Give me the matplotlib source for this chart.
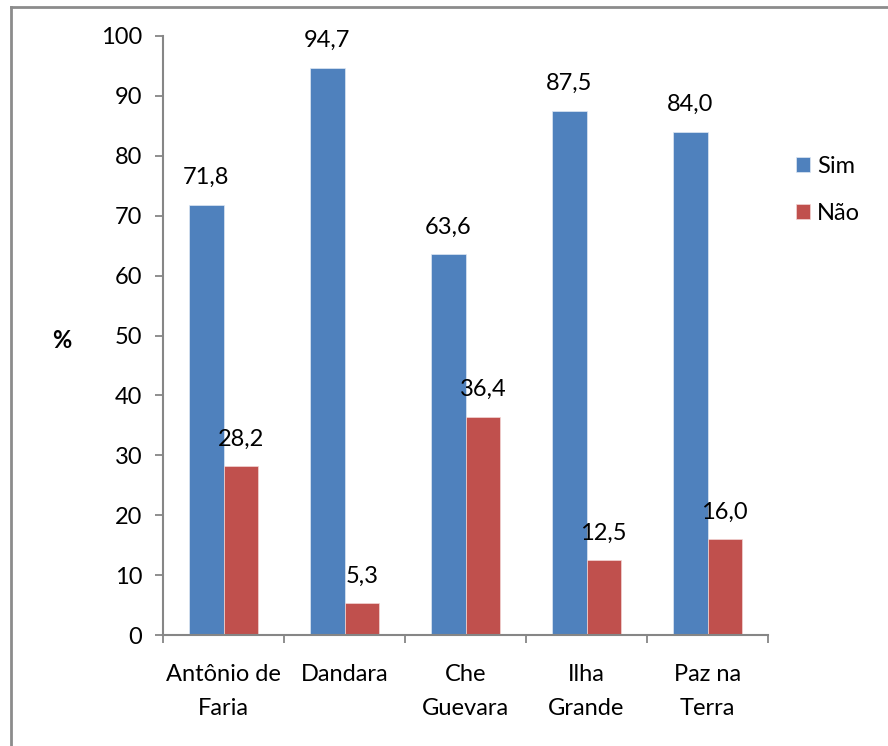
import matplotlib
matplotlib.use("Agg")
import matplotlib.pyplot as plt
import numpy as np
from matplotlib.lines import Line2D

categories = ["Antônio de\nFaria", "Dandara", "Che\nGuevara", "Ilha\nGrande", "Paz na\nTerra"]
sim = [71.8, 94.7, 63.6, 87.5, 84.0]
nao = [28.2, 5.3, 36.4, 12.5, 16.0]
series_names = ["Sim", "Não"]
yticks = [0, 10, 20, 30, 40, 50, 60, 70, 80, 90, 100]

plt.rcParams['font.family'] = ['Lato', 'DejaVu Sans']
FS = 17
W, H = 888, 746
fig = plt.figure(figsize=(W / 100, H / 100), dpi=100)
ax = fig.add_axes([163 / W, (H - 635) / H, (768 - 163) / W, (635 - 36) / H])

blue = "#4F81BD"
red = "#C0504D"
grey = "#868686"
bw = 0.285
x = np.arange(len(categories))
b1 = ax.bar(x - bw / 2, sim, bw, color=blue, edgecolor="#dfe8f3", linewidth=0.5, label=series_names[0])
b2 = ax.bar(x + bw / 2, nao, bw, color=red, edgecolor="#f2d6d5", linewidth=0.5, label=series_names[1])

def fmt(v):
    return f"{v:.1f}".replace(".", ",")

for bars, vals in ((b1, sim), (b2, nao)):
    for rect, v in zip(bars, vals):
        ax.annotate(fmt(v), (rect.get_x() + rect.get_width() / 2, v),
                    xytext=(0, 12), textcoords="offset points",
                    ha="center", va="bottom", fontsize=FS, color="black")

ax.set_xlim(-0.5, len(categories) - 0.5)
ax.set_ylim(0, 100)
ax.set_yticks(yticks)
ax.set_yticklabels([str(t) for t in yticks])
ax.set_xticks(x)
ax.set_xticklabels(categories, fontsize=FS, linespacing=1.75)
ax.set_xticks(np.arange(-0.5, len(categories), 1.0), minor=True)
ax.tick_params(axis="x", which="major", length=0, pad=21)
ax.tick_params(axis="x", which="minor", length=6, width=1.3, color=grey, direction="out")
ax.tick_params(axis="y", length=6, width=1.3, color=grey, direction="out", labelsize=FS, pad=9)

for s in ("top", "right"):
    ax.spines[s].set_visible(False)
for s in ("left", "bottom"):
    ax.spines[s].set_color(grey)
    ax.spines[s].set_linewidth(1.5)

ax.set_ylabel("%", rotation=0, fontsize=FS, fontweight="bold", va="center", ha="center")
ax.yaxis.set_label_coords((62 - 163) / (768 - 163), (635 - 340) / (635 - 36))

leg = fig.legend(handles=[b1, b2], loc="upper left",
                 bbox_to_anchor=(796 / W, 1 - 156 / H), frameon=False,
                 fontsize=FS, handlelength=0.6, handleheight=0.6,
                 handletextpad=0.3, labelspacing=1.1, borderaxespad=0, borderpad=0)

# outer chart frame (left and top edges visible)
fig.add_artist(Line2D([11 / W, 11 / W], [0, 1 - 7 / H], transform=fig.transFigure, color="#8c8c8c", lw=2))
fig.add_artist(Line2D([11 / W, 1], [1 - 7 / H, 1 - 7 / H], transform=fig.transFigure, color="#8c8c8c", lw=2))

fig.savefig("out.png", dpi=100)
